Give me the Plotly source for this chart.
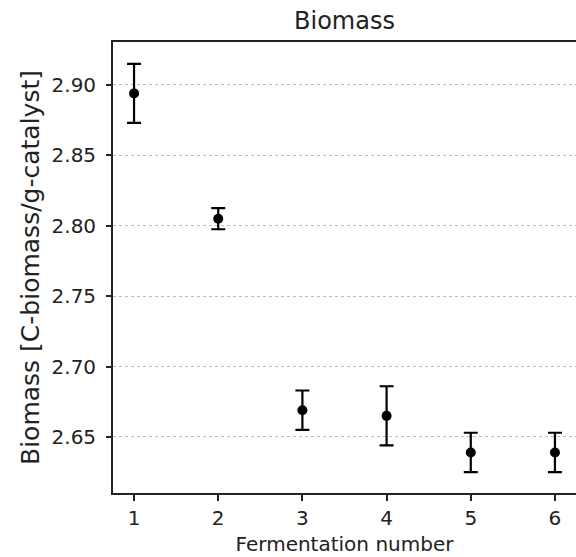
import plotly.graph_objects as go

fermentation = [1, 2, 3, 4, 5, 6]
biomass = [2.894, 2.805, 2.669, 2.665, 2.639, 2.639]
biomass_err = [0.021, 0.0075, 0.014, 0.021, 0.014, 0.014]
y_ticks = [2.65, 2.70, 2.75, 2.80, 2.85, 2.90]
y_tick_labels = ["2.65", "2.70", "2.75", "2.80", "2.85", "2.90"]

font_family = "DejaVu Sans"
txt = "#222222"

fig = go.Figure()
fig.add_trace(go.Scatter(
    x=fermentation, y=biomass, mode="markers",
    marker=dict(color="black", size=10),
    error_y=dict(type="data", array=biomass_err, visible=True,
                 color="black", thickness=2.2, width=7),
    showlegend=False,
))

fig.update_layout(
    width=576, height=557,
    margin=dict(l=113, r=0, t=42, b=64),
    paper_bgcolor="white", plot_bgcolor="white",
    font=dict(family=font_family, color=txt, size=20),
    title=dict(text="Biomass", x=(113 + 576) / 2 / 576, xanchor="center",
               y=1 - 21 / 557, yanchor="middle",
               font=dict(size=24, family=font_family, color=txt)),
)
fig.update_xaxes(
    range=[0.75, 6.25], tickmode="array", tickvals=fermentation,
    ticktext=[str(v) for v in fermentation],
    showline=True, linecolor=txt, linewidth=1.8, mirror=True,
    ticks="outside", ticklen=6, tickcolor=txt, tickwidth=1.5,
    showgrid=False, zeroline=False,
    tickfont=dict(size=20, family=font_family, color=txt),
    title=dict(text="Fermentation number", standoff=8,
               font=dict(size=20, family=font_family, color=txt)),
)
fig.update_yaxes(
    range=[2.6102, 2.9305], tickmode="array", tickvals=y_ticks,
    ticktext=y_tick_labels,
    showline=True, linecolor=txt, linewidth=1.8, mirror=False,
    ticks="outside", ticklen=5, tickcolor=txt, tickwidth=1.5,
    ticklabelstandoff=6,
    showgrid=True, gridcolor="#bdbdbd", griddash="dot", gridwidth=1,
    zeroline=False,
    tickfont=dict(size=20, family=font_family, color=txt),
    title=dict(text="Biomass [C-biomass/g-catalyst]", standoff=5,
               font=dict(size=25, family=font_family, color=txt)),
)

fig.write_html("out.html")
